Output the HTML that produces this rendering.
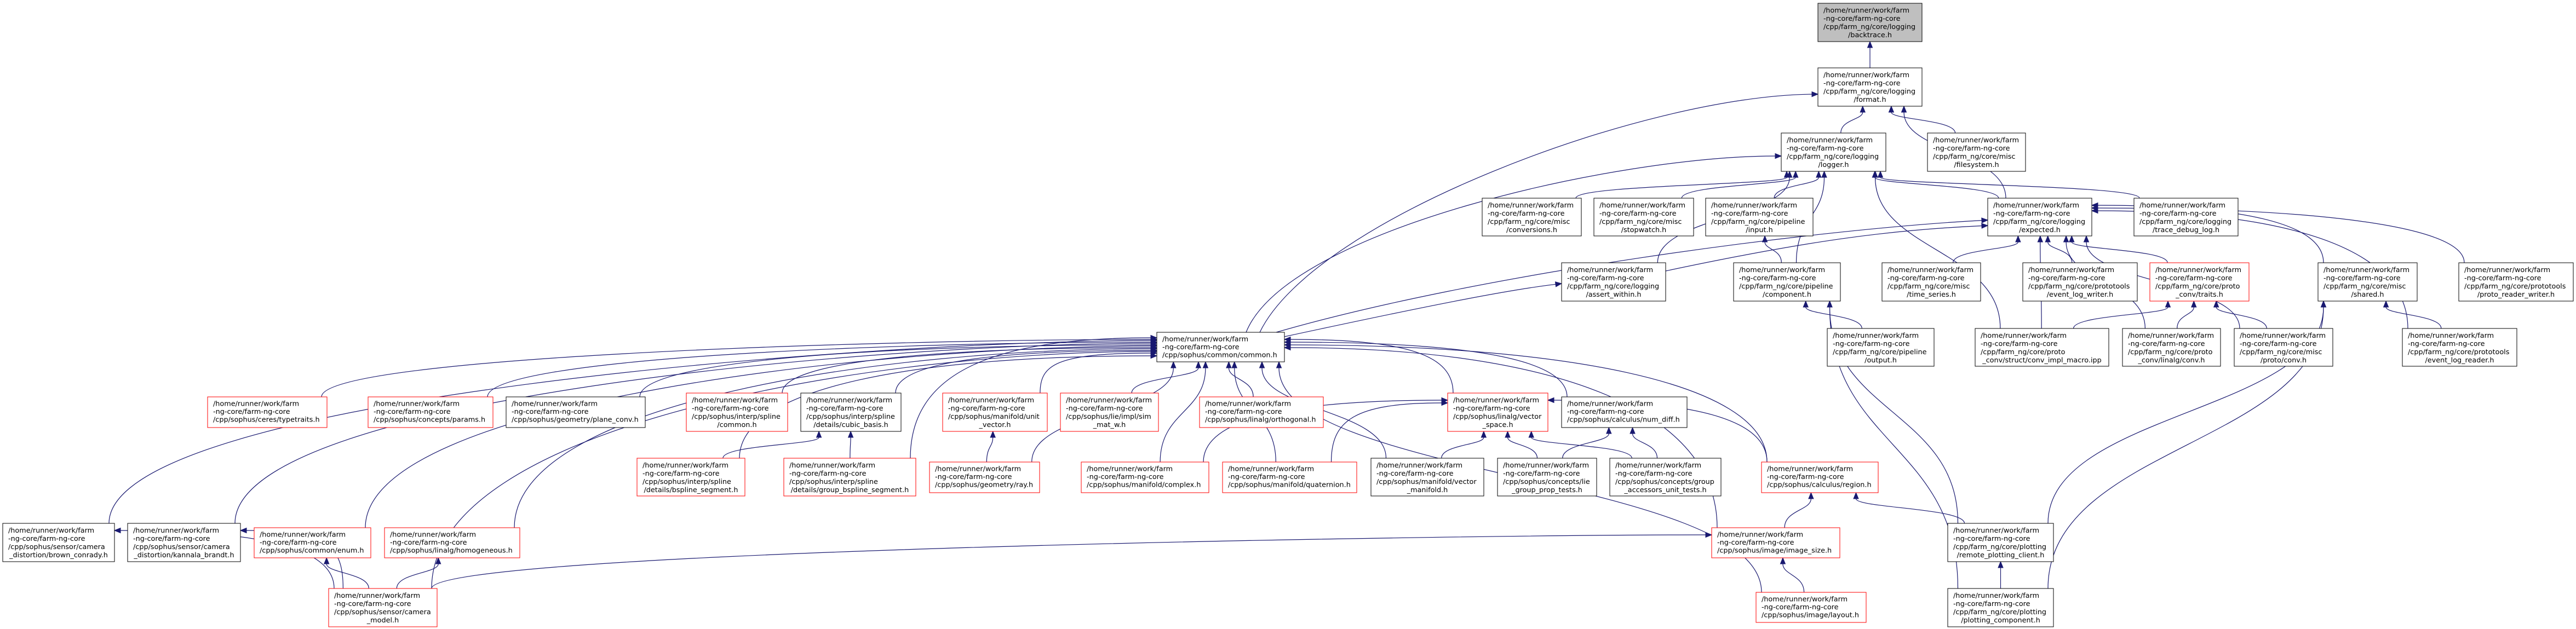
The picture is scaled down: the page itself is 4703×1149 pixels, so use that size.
<!DOCTYPE html>
<html><head><meta charset="utf-8">
<style>
html,body{margin:0;padding:0;background:#fff;}
svg{display:block;}
text{font-family:"DejaVu Sans","Liberation Sans",sans-serif;font-size:12.8px;fill:#000;}
.n{fill:#fff;stroke:#000;stroke-width:1;}
.r{fill:#fff;stroke:#ff0000;stroke-width:1;}
.c{text-anchor:middle;}
</style></head><body>
<svg id="s" xmlns="http://www.w3.org/2000/svg" width="4703" height="1149" viewBox="0 0 4703 1149">
<g id="edges"></g>
<g id="nodes">
<rect x="3319" y="6" width="190" height="70" fill="#bfbfbf" stroke="#000"/>
<text x="3329" y="23">/home/runner/work/farm</text><text x="3329" y="38">-ng-core/farm-ng-core</text><text x="3329" y="53">/cpp/farm_ng/core/logging</text><text class="c" x="3414" y="68">/backtrace.h</text>
<rect class="n" x="3319" y="124" width="190" height="70"/>
<text x="3329" y="141">/home/runner/work/farm</text><text x="3329" y="156">-ng-core/farm-ng-core</text><text x="3329" y="171">/cpp/farm_ng/core/logging</text><text class="c" x="3414" y="186">/format.h</text>
<rect class="n" x="3252" y="243" width="191" height="70"/>
<text x="3262" y="260">/home/runner/work/farm</text><text x="3262" y="275">-ng-core/farm-ng-core</text><text x="3262" y="290">/cpp/farm_ng/core/logging</text><text class="c" x="3347.5" y="305">/logger.h</text>
<rect class="n" x="3519" y="243" width="179" height="70"/>
<text x="3529" y="260">/home/runner/work/farm</text><text x="3529" y="275">-ng-core/farm-ng-core</text><text x="3529" y="290">/cpp/farm_ng/core/misc</text><text class="c" x="3608.5" y="305">/filesystem.h</text>
<rect class="n" x="2706" y="362" width="181" height="69"/>
<text x="2716" y="379">/home/runner/work/farm</text><text x="2716" y="394">-ng-core/farm-ng-core</text><text x="2716" y="409">/cpp/farm_ng/core/misc</text><text class="c" x="2796.5" y="424">/conversions.h</text>
<rect class="n" x="2910" y="362" width="182" height="69"/>
<text x="2920" y="379">/home/runner/work/farm</text><text x="2920" y="394">-ng-core/farm-ng-core</text><text x="2920" y="409">/cpp/farm_ng/core/misc</text><text class="c" x="3001" y="424">/stopwatch.h</text>
<rect class="n" x="3114" y="362" width="196" height="69"/>
<text x="3124" y="379">/home/runner/work/farm</text><text x="3124" y="394">-ng-core/farm-ng-core</text><text x="3124" y="409">/cpp/farm_ng/core/pipeline</text><text class="c" x="3212" y="424">/input.h</text>
<rect class="n" x="3629" y="362" width="190" height="69"/>
<text x="3639" y="379">/home/runner/work/farm</text><text x="3639" y="394">-ng-core/farm-ng-core</text><text x="3639" y="409">/cpp/farm_ng/core/logging</text><text class="c" x="3724" y="424">/expected.h</text>
<rect class="n" x="3896" y="362" width="190" height="69"/>
<text x="3906" y="379">/home/runner/work/farm</text><text x="3906" y="394">-ng-core/farm-ng-core</text><text x="3906" y="409">/cpp/farm_ng/core/logging</text><text class="c" x="3991" y="424">/trace_debug_log.h</text>
<rect class="n" x="2851" y="480" width="190" height="70"/>
<text x="2861" y="497">/home/runner/work/farm</text><text x="2861" y="512">-ng-core/farm-ng-core</text><text x="2861" y="527">/cpp/farm_ng/core/logging</text><text class="c" x="2946" y="542">/assert_within.h</text>
<rect class="n" x="3165" y="480" width="195" height="70"/>
<text x="3175" y="497">/home/runner/work/farm</text><text x="3175" y="512">-ng-core/farm-ng-core</text><text x="3175" y="527">/cpp/farm_ng/core/pipeline</text><text class="c" x="3262.5" y="542">/component.h</text>
<rect class="n" x="3436" y="480" width="180" height="70"/>
<text x="3446" y="497">/home/runner/work/farm</text><text x="3446" y="512">-ng-core/farm-ng-core</text><text x="3446" y="527">/cpp/farm_ng/core/misc</text><text class="c" x="3526" y="542">/time_series.h</text>
<rect class="n" x="3693" y="480" width="209" height="70"/>
<text x="3703" y="497">/home/runner/work/farm</text><text x="3703" y="512">-ng-core/farm-ng-core</text><text x="3703" y="527">/cpp/farm_ng/core/prototools</text><text class="c" x="3797.5" y="542">/event_log_writer.h</text>
<rect class="r" x="3925" y="480" width="181" height="70"/>
<text x="3935" y="497">/home/runner/work/farm</text><text x="3935" y="512">-ng-core/farm-ng-core</text><text x="3935" y="527">/cpp/farm_ng/core/proto</text><text class="c" x="4015.5" y="542">_conv/traits.h</text>
<rect class="n" x="4232" y="480" width="181" height="70"/>
<text x="4242" y="497">/home/runner/work/farm</text><text x="4242" y="512">-ng-core/farm-ng-core</text><text x="4242" y="527">/cpp/farm_ng/core/misc</text><text class="c" x="4322.5" y="542">/shared.h</text>
<rect class="n" x="4489" y="480" width="209" height="70"/>
<text x="4499" y="497">/home/runner/work/farm</text><text x="4499" y="512">-ng-core/farm-ng-core</text><text x="4499" y="527">/cpp/farm_ng/core/prototools</text><text class="c" x="4593.5" y="542">/proto_reader_writer.h</text>
<rect class="n" x="2112" y="607" width="233" height="54"/>
<text x="2122" y="623.5">/home/runner/work/farm</text><text x="2122" y="638">-ng-core/farm-ng-core</text><text x="2122" y="652.5">/cpp/sophus/common/common.h</text>
<rect class="n" x="3336" y="600" width="195" height="69"/>
<text x="3346" y="617">/home/runner/work/farm</text><text x="3346" y="632">-ng-core/farm-ng-core</text><text x="3346" y="647">/cpp/farm_ng/core/pipeline</text><text class="c" x="3433.5" y="662">/output.h</text>
<rect class="n" x="3606" y="600" width="244" height="69"/>
<text x="3616" y="617">/home/runner/work/farm</text><text x="3616" y="632">-ng-core/farm-ng-core</text><text x="3616" y="647">/cpp/farm_ng/core/proto</text><text class="c" x="3728" y="662">_conv/struct/conv_impl_macro.ipp</text>
<rect class="n" x="3875" y="600" width="179" height="69"/>
<text x="3885" y="617">/home/runner/work/farm</text><text x="3885" y="632">-ng-core/farm-ng-core</text><text x="3885" y="647">/cpp/farm_ng/core/proto</text><text class="c" x="3964.5" y="662">_conv/linalg/conv.h</text>
<rect class="n" x="4079" y="600" width="180" height="69"/>
<text x="4089" y="617">/home/runner/work/farm</text><text x="4089" y="632">-ng-core/farm-ng-core</text><text x="4089" y="647">/cpp/farm_ng/core/misc</text><text class="c" x="4169" y="662">/proto/conv.h</text>
<rect class="n" x="4386" y="600" width="209" height="69"/>
<text x="4396" y="617">/home/runner/work/farm</text><text x="4396" y="632">-ng-core/farm-ng-core</text><text x="4396" y="647">/cpp/farm_ng/core/prototools</text><text class="c" x="4490.5" y="662">/event_log_reader.h</text>
<rect class="r" x="1253" y="718" width="185" height="70"/>
<text x="1263" y="735">/home/runner/work/farm</text><text x="1263" y="750">-ng-core/farm-ng-core</text><text x="1263" y="765">/cpp/sophus/interp/spline</text><text class="c" x="1345.5" y="780">/common.h</text>
<rect class="n" x="1462" y="718" width="183" height="70"/>
<text x="1472" y="735">/home/runner/work/farm</text><text x="1472" y="750">-ng-core/farm-ng-core</text><text x="1472" y="765">/cpp/sophus/interp/spline</text><text class="c" x="1553.5" y="780">/details/cubic_basis.h</text>
<rect class="r" x="1721" y="718" width="191" height="70"/>
<text x="1731" y="735">/home/runner/work/farm</text><text x="1731" y="750">-ng-core/farm-ng-core</text><text x="1731" y="765">/cpp/sophus/manifold/unit</text><text class="c" x="1816.5" y="780">_vector.h</text>
<rect class="r" x="1936" y="718" width="179" height="70"/>
<text x="1946" y="735">/home/runner/work/farm</text><text x="1946" y="750">-ng-core/farm-ng-core</text><text x="1946" y="765">/cpp/sophus/lie/impl/sim</text><text class="c" x="2025.5" y="780">_mat_w.h</text>
<rect class="r" x="2643" y="718" width="183" height="70"/>
<text x="2653" y="735">/home/runner/work/farm</text><text x="2653" y="750">-ng-core/farm-ng-core</text><text x="2653" y="765">/cpp/sophus/linalg/vector</text><text class="c" x="2734.5" y="780">_space.h</text>
<rect class="r" x="379" y="725" width="218" height="56"/>
<text x="389" y="741.5">/home/runner/work/farm</text><text x="389" y="756">-ng-core/farm-ng-core</text><text x="389" y="770.5">/cpp/sophus/ceres/typetraits.h</text>
<rect class="r" x="672" y="725" width="228" height="56"/>
<text x="682" y="741.5">/home/runner/work/farm</text><text x="682" y="756">-ng-core/farm-ng-core</text><text x="682" y="770.5">/cpp/sophus/concepts/params.h</text>
<rect class="n" x="924" y="725" width="254" height="56"/>
<text x="934" y="741.5">/home/runner/work/farm</text><text x="934" y="756">-ng-core/farm-ng-core</text><text x="934" y="770.5">/cpp/sophus/geometry/plane_conv.h</text>
<rect class="r" x="2190" y="725" width="226" height="56"/>
<text x="2200" y="741.5">/home/runner/work/farm</text><text x="2200" y="756">-ng-core/farm-ng-core</text><text x="2200" y="770.5">/cpp/sophus/linalg/orthogonal.h</text>
<rect class="n" x="2851" y="725" width="229" height="56"/>
<text x="2861" y="741.5">/home/runner/work/farm</text><text x="2861" y="756">-ng-core/farm-ng-core</text><text x="2861" y="770.5">/cpp/sophus/calculus/num_diff.h</text>
<rect class="r" x="1163" y="837" width="197" height="69"/>
<text x="1173" y="854">/home/runner/work/farm</text><text x="1173" y="869">-ng-core/farm-ng-core</text><text x="1173" y="884">/cpp/sophus/interp/spline</text><text class="c" x="1261.5" y="899">/details/bspline_segment.h</text>
<rect class="r" x="1431" y="837" width="241" height="69"/>
<text x="1441" y="854">/home/runner/work/farm</text><text x="1441" y="869">-ng-core/farm-ng-core</text><text x="1441" y="884">/cpp/sophus/interp/spline</text><text class="c" x="1551.5" y="899">/details/group_bspline_segment.h</text>
<rect class="n" x="2503" y="837" width="206" height="69"/>
<text x="2513" y="854">/home/runner/work/farm</text><text x="2513" y="869">-ng-core/farm-ng-core</text><text x="2513" y="884">/cpp/sophus/manifold/vector</text><text class="c" x="2606" y="899">_manifold.h</text>
<rect class="n" x="2734" y="837" width="181" height="69"/>
<text x="2744" y="854">/home/runner/work/farm</text><text x="2744" y="869">-ng-core/farm-ng-core</text><text x="2744" y="884">/cpp/sophus/concepts/lie</text><text class="c" x="2824.5" y="899">_group_prop_tests.h</text>
<rect class="n" x="2939" y="837" width="203" height="69"/>
<text x="2949" y="854">/home/runner/work/farm</text><text x="2949" y="869">-ng-core/farm-ng-core</text><text x="2949" y="884">/cpp/sophus/concepts/group</text><text class="c" x="3040.5" y="899">_accessors_unit_tests.h</text>
<rect class="r" x="1697" y="844" width="201" height="56"/>
<text x="1707" y="860.5">/home/runner/work/farm</text><text x="1707" y="875">-ng-core/farm-ng-core</text><text x="1707" y="889.5">/cpp/sophus/geometry/ray.h</text>
<rect class="r" x="1974" y="844" width="233" height="56"/>
<text x="1984" y="860.5">/home/runner/work/farm</text><text x="1984" y="875">-ng-core/farm-ng-core</text><text x="1984" y="889.5">/cpp/sophus/manifold/complex.h</text>
<rect class="r" x="2232" y="844" width="245" height="56"/>
<text x="2242" y="860.5">/home/runner/work/farm</text><text x="2242" y="875">-ng-core/farm-ng-core</text><text x="2242" y="889.5">/cpp/sophus/manifold/quaternion.h</text>
<rect class="r" x="3216" y="844" width="213" height="56"/>
<text x="3226" y="860.5">/home/runner/work/farm</text><text x="3226" y="875">-ng-core/farm-ng-core</text><text x="3226" y="889.5">/cpp/sophus/calculus/region.h</text>
<rect class="n" x="5" y="956" width="204" height="70"/>
<text x="15" y="973">/home/runner/work/farm</text><text x="15" y="988">-ng-core/farm-ng-core</text><text x="15" y="1003">/cpp/sophus/sensor/camera</text><text class="c" x="107" y="1018">_distortion/brown_conrady.h</text>
<rect class="n" x="233" y="956" width="206" height="70"/>
<text x="243" y="973">/home/runner/work/farm</text><text x="243" y="988">-ng-core/farm-ng-core</text><text x="243" y="1003">/cpp/sophus/sensor/camera</text><text class="c" x="336" y="1018">_distortion/kannala_brandt.h</text>
<rect class="n" x="3556" y="956" width="193" height="70"/>
<text x="3566" y="973">/home/runner/work/farm</text><text x="3566" y="988">-ng-core/farm-ng-core</text><text x="3566" y="1003">/cpp/farm_ng/core/plotting</text><text class="c" x="3652.5" y="1018">/remote_plotting_client.h</text>
<rect class="r" x="464" y="964" width="213" height="55"/>
<text x="474" y="980.5">/home/runner/work/farm</text><text x="474" y="995">-ng-core/farm-ng-core</text><text x="474" y="1009.5">/cpp/sophus/common/enum.h</text>
<rect class="r" x="702" y="964" width="247" height="55"/>
<text x="712" y="980.5">/home/runner/work/farm</text><text x="712" y="995">-ng-core/farm-ng-core</text><text x="712" y="1009.5">/cpp/sophus/linalg/homogeneous.h</text>
<rect class="r" x="3125" y="964" width="234" height="55"/>
<text x="3135" y="980.5">/home/runner/work/farm</text><text x="3135" y="995">-ng-core/farm-ng-core</text><text x="3135" y="1009.5">/cpp/sophus/image/image_size.h</text>
<rect class="r" x="600" y="1075" width="198" height="70"/>
<text x="610" y="1092">/home/runner/work/farm</text><text x="610" y="1107">-ng-core/farm-ng-core</text><text x="610" y="1122">/cpp/sophus/sensor/camera</text><text class="c" x="699" y="1137">_model.h</text>
<rect class="n" x="3556" y="1075" width="193" height="70"/>
<text x="3566" y="1092">/home/runner/work/farm</text><text x="3566" y="1107">-ng-core/farm-ng-core</text><text x="3566" y="1122">/cpp/farm_ng/core/plotting</text><text class="c" x="3652.5" y="1137">/plotting_component.h</text>
<rect class="r" x="3206" y="1082" width="201" height="55"/>
<text x="3216" y="1098.5">/home/runner/work/farm</text><text x="3216" y="1113">-ng-core/farm-ng-core</text><text x="3216" y="1127.5">/cpp/sophus/image/layout.h</text>
</g>
</svg>
<script>
(function(){
var N={bt:[3319,6,3509,76],fmt:[3319,124,3509,194],log:[3252,243,3443,313],fs:[3519,243,3698,313],
conv:[2706,362,2887,431],sw:[2910,362,3092,431],inp:[3114,362,3310,431],exp:[3629,362,3819,431],tdl:[3896,362,4086,431],
aw:[2851,480,3041,550],comp:[3165,480,3360,550],ts:[3436,480,3616,550],elw:[3693,480,3902,550],tr:[3925,480,4106,550],sh:[4232,480,4413,550],prw:[4489,480,4698,550],
cmn:[2112,607,2345,661],out:[3336,600,3531,669],cim:[3606,600,3850,669],lc:[3875,600,4054,669],mpc:[4079,600,4259,669],elr:[4386,600,4595,669],
spc:[1253,718,1438,788],cb:[1462,718,1645,788],uv:[1721,718,1912,788],sim:[1936,718,2115,788],vs:[2643,718,2826,788],
tt:[379,725,597,781],par:[672,725,900,781],pc:[924,725,1178,781],orth:[2190,725,2416,781],nd:[2851,725,3080,781],
bs:[1163,837,1360,906],gbs:[1431,837,1672,906],vm:[2503,837,2709,906],lgp:[2734,837,2915,906],gau:[2939,837,3142,906],
ray:[1697,844,1898,900],cpx:[1974,844,2207,900],quat:[2232,844,2477,900],reg:[3216,844,3429,900],
bc:[5,956,209,1026],kb:[233,956,439,1026],rpc:[3556,956,3749,1026],en:[464,964,677,1019],hom:[702,964,949,1019],is:[3125,964,3359,1019],
cm:[600,1075,798,1145],pcmp:[3556,1075,3749,1145],lay:[3206,1082,3407,1137]};
var E=[['fmt','bt'],['log','fmt'],['fs','fmt'],['exp','fmt'],
['conv','log'],['sw','log'],['inp','log'],['comp','log'],['exp','log'],['tdl','log'],['cim','log'],['aw','log'],
['comp','inp'],['ts','exp'],['elw','exp'],['tr','exp'],['cim','exp'],['sh','exp'],['prw','exp'],['lc','exp'],['mpc','exp'],['elr','exp'],
['out','comp'],['rpc','comp'],['pcmp','comp'],['cim','tr'],['lc','tr'],['mpc','tr'],['elr','sh'],['rpc','sh'],['pcmp','sh'],
['tt','cmn'],['par','cmn'],['pc','cmn'],['spc','cmn'],['cb','cmn'],['uv','cmn'],['sim','cmn'],['orth','cmn'],['vs','cmn'],['nd','cmn'],
['bs','cmn'],['gbs','cmn'],['ray','cmn'],['cpx','cmn'],['quat','cmn'],['vm','cmn'],['reg','cmn'],['bc','cmn'],['kb','cmn'],['en','cmn'],['hom','cmn'],['is','cmn'],['lay','cmn'],['cm','cmn'],
['bs','cb'],['gbs','cb'],['ray','uv'],['cpx','vs'],['quat','vs'],['vm','vs'],['lgp','vs'],['gau','vs'],['reg','vs'],['lgp','nd'],['gau','nd'],
['is','reg'],['rpc','reg'],['lay','is'],['cm','is'],['cm','bc'],['cm','kb'],['cm','en'],['cm','hom'],['pcmp','rpc'],
['cmn','fmt',[2300,607,2400,400,3000,175,3319,172]],
['cmn','log',[2275,607,2350,420,2950,285,3252,285]],
['cmn','exp',[2330,607,2700,500,3300,420,3629,402]],
['cmn','aw',[2345,615,2600,560,2750,530,2851,518]],
['aw','exp',[3041,495,3300,440,3450,420,3629,412]]];
function B(id){var b=N[id];return {x1:b[0],y1:b[1],x2:b[2],y2:b[3],cx:(b[0]+b[2])/2};}
function cl(v,a,b){return Math.max(a,Math.min(b,v));}
var cnt={};var out='';
E.forEach(function(e){
 var C=B(e[0]),P=B(e[1]),s=e[2];
 if(!s){
  var dx=C.cx-P.cx,dy=C.y1-P.y2;
  var sx=cl(C.cx-dx*0.2,C.x1+10,C.x2-10),sy=C.y1;
  var noSide=(e[1]==='log'||e[1]==='fmt');
  if(!noSide&&Math.abs(dx)>350&&Math.abs(dx)>3*dy){
   var key=e[1]+(dx<0?'L':'R');cnt[key]=(cnt[key]||0)+1;
   var span=P.y2-P.y1-16;
   var ey=P.y1+8+((cnt[key]*5)%span);
   var ex=dx<0?P.x1:P.x2;
   var off=Math.min(500,Math.abs(dx)*0.45);
   s=[sx,sy,sx,sy-(sy-ey)*0.7,ex+(dx<0?-off:off),ey,ex,ey];
  } else {
   var ex2=cl(P.cx+dx*0.2,P.x1+10,P.x2-10),ey2=P.y2,h=(sy-ey2)*0.5;
   s=[sx,sy,sx,sy-h,ex2,ey2+h,ex2,ey2];
  }
 }
 var ux=s[6]-s[4],uy=s[7]-s[5],L=Math.sqrt(ux*ux+uy*uy);
 if(L<0.01){ux=s[6]-s[0];uy=s[7]-s[1];L=Math.sqrt(ux*ux+uy*uy)||1;}
 ux/=L;uy/=L;
 var bx=s[6]-ux*11,by=s[7]-uy*11;
 out+='<path d="M'+s[0]+','+s[1]+' C'+s[2]+','+s[3]+' '+s[4]+','+s[5]+' '+bx.toFixed(1)+','+by.toFixed(1)+'" fill="none" stroke="#191970" stroke-width="1.2"/>';
 out+='<polygon points="'+s[6]+','+s[7]+' '+(bx-uy*4.5).toFixed(1)+','+(by+ux*4.5).toFixed(1)+' '+(bx+uy*4.5).toFixed(1)+','+(by-ux*4.5).toFixed(1)+'" fill="#191970" stroke="#191970"/>';
});
document.getElementById('edges').innerHTML=out;
})();
</script>
</body></html>
